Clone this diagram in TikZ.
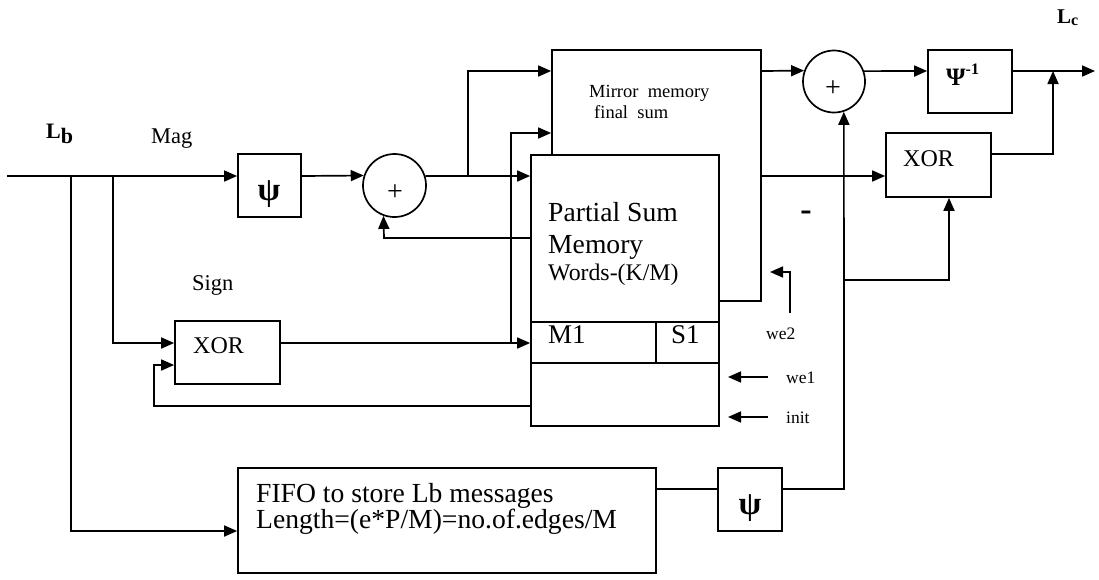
\documentclass[tikz,border=0pt]{standalone}
\usepackage{fontspec}
\setmainfont{Liberation Serif}
\usetikzlibrary{arrows.meta}
\newcommand{\myfs}[1]{\fontsize{#1}{#1}\selectfont}
\tikzset{
  ln/.style={line width=1.7pt},
  arr/.style={ln,-{Triangle[length=13pt,width=11pt]}},
  blk/.style={draw,line width=1.7pt,inner sep=0pt,fill=white},
  sumc/.style={draw,circle,line width=1.7pt,inner sep=0pt,fill=white},
  txt/.style={anchor=base west,inner sep=0pt},
}
\begin{document}
\begin{tikzpicture}[x=1pt,y=-1pt]
\useasboundingbox[fill=white] (0,0) rectangle (1099,579);

% blocks
\node[blk,minimum width=63pt,minimum height=63pt] (psiA) at (269.5,185.5) {};
\node[sumc,minimum size=63pt] (sum1) at (394.5,185.5) {};
\node[blk,minimum width=209pt,minimum height=251pt] (mirror) at (656.5,175.5) {};
\node[blk,minimum width=188pt,minimum height=271pt] (psm) at (625,290.5) {};
\node[blk,minimum width=105pt,minimum height=63pt] (xorA) at (227.5,352.5) {};
\node[sumc,minimum size=62pt] (sum2) at (834,81.5) {};
\node[blk,minimum width=84pt,minimum height=63pt] (psiinv) at (970,81.5) {};
\node[blk,minimum width=105pt,minimum height=64pt] (xorB) at (938.5,165) {};
\node[blk,minimum width=418pt,minimum height=105pt] (fifo) at (447,520.5) {};
\node[blk,minimum width=64pt,minimum height=63pt] (psiB) at (750,499.5) {};

% partial sum memory subdivisions
\draw[ln] (531,322) -- (719,322);
\draw[ln] (531,363) -- (719,363);
\draw[ln] (656,322) -- (656,363);

% coordinates
\coordinate (in) at (7,176);
\coordinate (j1) at (71,176);
\coordinate (j2) at (113,176);
\coordinate (j3) at (468,176);
\coordinate (t71) at (468,71);
\coordinate (j4) at (511,343);
\coordinate (t133) at (511,133);
\coordinate (fb1) at (384,238);
\coordinate (fb2) at (154,406);
\coordinate (fb3) at (154,365);
\coordinate (j7) at (71,531);
\coordinate (j8) at (844,489);
\coordinate (j5) at (844,280);
\coordinate (j9) at (949,280);
\coordinate (out) at (1095,71);
\coordinate (j6) at (1053,71);
\coordinate (j10) at (1053,154);
\coordinate (we2s) at (790,313);
\coordinate (we2c) at (790,272);
\coordinate (we2e) at (770,272);
\coordinate (we1s) at (768,377);
\coordinate (we1e) at (728,377);
\coordinate (inits) at (768,417);
\coordinate (inite) at (728,417);

% connectors
\draw[arr] (in) -- (psiA.west |- in);
\draw[arr] (psiA.east |- in) -- (sum1.162.4);
\draw[arr] (sum1.17.6) -- (psm.west |- j3);
\draw[arr] (j3) -- (t71) -- (mirror.west |- t71);
\draw[arr] (j4) -- (t133) -- (mirror.west |- t133);
\draw[arr] (psm.west |- fb1) -- (fb1) -- (sum1.250.5);
\draw[arr] (j2) -- (j2 |- j4) -- (xorA.west |- j4);
\draw[arr] (xorA.east |- j4) -- (psm.west |- j4);
\draw[arr] (psm.west |- fb2) -- (fb2) -- (fb3) -- (xorA.west |- fb3);
\draw[arr] (j1) -- (j7) -- (fifo.west |- j7);
\draw[ln] (fifo.east |- j8) -- (psiB.west |- j8);
\draw[arr] (psiB.east |- j8) -- (j8) -- (sum2.288.8);
\draw[arr] (j5) -- (j9) -- (j9 |- xorB.south);
\draw[arr] (mirror.east |- t71) -- (sum2.160.2);
\draw[arr] (sum2.19.8) -- (psiinv.west |- out);
\draw[arr] (psiinv.east |- out) -- (out);
\draw[arr] (xorB.east |- j10) -- (j10) -- (j6);
\draw[arr] (mirror.east |- j3) -- (xorB.west |- j3);
\draw[arr] (we2s) -- (we2c) -- (we2e);
\draw[arr] (we1s) -- (we1e);
\draw[arr] (inits) -- (inite);

% texts
\node[txt,font=\myfs{22}\bfseries] (lb) at (46,138) {L\raisebox{-5pt}{b}};
\node[txt,font=\myfs{21}\bfseries] (lc) at (1057,23) {L\raisebox{-2pt}{\myfs{16}c}};
\node[txt,font=\myfs{22.5}] (mag) at (151,143) {Mag};
\node[txt,font=\myfs{22.5}] (sign) at (192,290) {Sign};
\node[txt,font=\myfs{24}] (xorAt) at (193,353) {XOR};
\node[txt,font=\myfs{24}] (xorBt) at (903,166) {XOR};
\node[font=\myfs{33}\bfseries,inner sep=0pt] (psiAt) at (269,194.5) {ψ};
\node[font=\myfs{33}\bfseries,inner sep=0pt] (psiBt) at (750,508) {ψ};
\node[txt,font=\myfs{25}\bfseries] (psiinvt) at (946,85) {Ψ\raisebox{11pt}{\myfs{16}-1}};
\node[font=\myfs{28},inner sep=0pt] (p1) at (395,193) {+};
\node[font=\myfs{28},inner sep=0pt] (p2) at (833,89) {+};
\node[font=\myfs{34}\bfseries,inner sep=0pt] (minus) at (806,216) {-};
\node[txt,font=\myfs{18.5}] (mir1) at (589,97) {Mirror~~memory};
\node[txt,font=\myfs{18.5}] (mir2) at (594,118) {final~~sum};
\node[txt,font=\myfs{27.6}] (ps1) at (548,221) {Partial Sum};
\node[txt,font=\myfs{27.6}] (ps2) at (548,253) {Memory};
\node[txt,font=\myfs{23.8}] (ps3) at (548,280) {Words-(K/M)};
\node[txt,font=\myfs{27}] (m1) at (548,343) {M1};
\node[txt,font=\myfs{27}] (s1) at (671,343) {S1};
\node[txt,font=\myfs{17.5}] (we2) at (766,339) {we2};
\node[txt,font=\myfs{17.5}] (we1) at (786,383) {we1};
\node[txt,font=\myfs{17.5}] (init) at (786,423) {init};
\node[txt,font=\myfs{27.6}] (fifo1) at (256,502) {FIFO to store Lb messages};
\node[txt,font=\myfs{27.6}] (fifo2) at (256,528) {Length=(e*P/M)=no.of.edges/M};
\end{tikzpicture}
\end{document}
